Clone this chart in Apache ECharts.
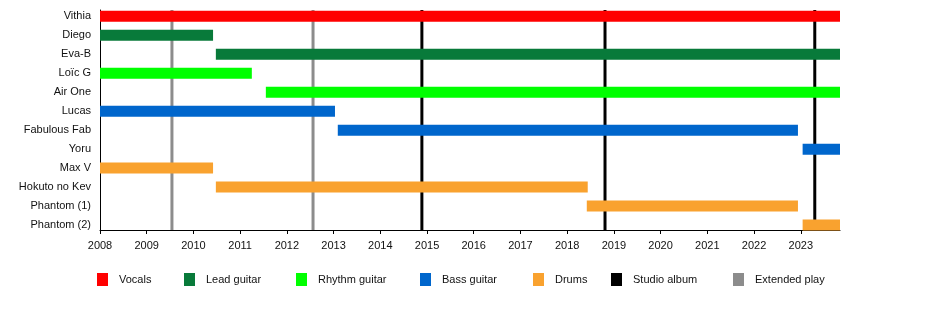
<!DOCTYPE html>
<html>
<head>
<meta charset="utf-8">
<script src="https://cdn.jsdelivr.net/npm/echarts@6/dist/echarts.min.js"></script>
<style>html,body{margin:0;padding:0;background:#fff}#c{width:929px;height:310px}</style>
</head>
<body>
<div id="c"></div>
<script>
var members = ['Vithia','Diego','Eva-B','Loïc G','Air One','Lucas','Fabulous Fab','Yoru','Max V','Hokuto no Kev','Phantom (1)','Phantom (2)'];
var memberRoles = ['Vocals','Lead guitar','Lead guitar','Rhythm guitar','Rhythm guitar','Bass guitar','Bass guitar','Bass guitar','Drums','Drums','Drums','Drums'];
var startYears = [2008, 2008, 2010.48, 2008, 2011.55, 2008, 2013.09, 2023.04, 2008, 2010.48, 2018.42, 2023.04];
var endYears = [2023.84, 2010.42, 2023.84, 2011.25, 2023.84, 2013.03, 2022.94, 2023.84, 2010.42, 2018.44, 2022.94, 2023.84];
var roles = ['Vocals','Lead guitar','Rhythm guitar','Bass guitar','Drums'];
var roleColors = ['#ff0000','#087a3a','#00ff00','#0066cc','#f9a22f'];
var studioAlbums = [2014.89, 2018.81, 2023.30];
var extendedPlays = [2009.54, 2012.56];
var yearTicks = [2008,2009,2010,2011,2012,2013,2014,2015,2016,2017,2018,2019,2020,2021,2022,2023];
var timelineEnd = 2023.84;

var FONT = 'Liberation Sans, Arial, sans-serif';
var chart = echarts.init(document.getElementById('c'));

function barRender(params, api) {
  var row = api.value(0);
  var p0 = api.coord([api.value(1), row]);
  var p1 = api.coord([api.value(2), row]);
  var h = 11;
  return {type: 'rect', shape: {x: p0[0], y: p0[1] - h / 2, width: p1[0] - p0[0], height: h},
          style: {fill: api.visual('color')}};
}
function lineRender(params, api) {
  var cs = params.coordSys;
  var x = api.coord([api.value(0), 0])[0];
  return {type: 'line', shape: {x1: x, y1: cs.y, x2: x, y2: cs.y + cs.height},
          style: {stroke: api.visual('color'), lineWidth: 3}};
}

var series = [];
series.push({name: 'Extended play', type: 'custom', renderItem: lineRender, z: 1,
  itemStyle: {color: '#8c8c8c'}, encode: {x: 0},
  data: extendedPlays.map(function (v) { return [v]; })});
series.push({name: 'Studio album', type: 'custom', renderItem: lineRender, z: 1,
  itemStyle: {color: '#000000'}, encode: {x: 0},
  data: studioAlbums.map(function (v) { return [v]; })});
roles.forEach(function (r, ri) {
  var d = [];
  members.forEach(function (m, i) {
    if (memberRoles[i] === r) d.push([i, startYears[i], endYears[i]]);
  });
  series.push({name: r, type: 'custom', renderItem: barRender, z: 3,
    itemStyle: {color: roleColors[ri]}, encode: {x: [1, 2], y: 0}, data: d});
});

var legendItems = [
  ['Vocals', 97], ['Lead guitar', 184], ['Rhythm guitar', 296], ['Bass guitar', 420],
  ['Drums', 533], ['Studio album', 611], ['Extended play', 733]
];
var legends = legendItems.map(function (li) {
  return {data: [li[0]], left: li[1], top: 273, icon: 'rect', itemWidth: 11, itemHeight: 13,
    padding: 0, selectedMode: false,
    textStyle: {fontFamily: FONT, fontSize: 11, color: '#111', padding: [0, 0, 0, 6]}};
});

chart.setOption({
  animation: false,
  backgroundColor: '#fff',
  grid: {left: 100, right: 89, top: 10, bottom: 80},
  legend: legends,
  xAxis: {type: 'value', min: 2008, max: timelineEnd,
    axisLine: {onZero: false, lineStyle: {color: '#000', width: 1}},
    axisTick: {show: true, length: 4, customValues: yearTicks, lineStyle: {color: '#000'}},
    axisLabel: {customValues: yearTicks, formatter: function (v) { return String(Math.round(v)); },
      fontFamily: FONT, fontSize: 11, color: '#111', margin: 10},
    splitLine: {show: false}},
  yAxis: {type: 'value', inverse: true, min: -0.33, max: 11.26,
    axisLine: {show: true, onZero: false, lineStyle: {color: '#000', width: 1}},
    axisTick: {show: false},
    axisLabel: {customValues: members.map(function (m, i) { return i; }),
      formatter: function (v) { return members[Math.round(v)]; },
      fontFamily: FONT, fontSize: 11, color: '#111', margin: 9},
    splitLine: {show: false}},
  series: series
});
</script>
</body>
</html>
